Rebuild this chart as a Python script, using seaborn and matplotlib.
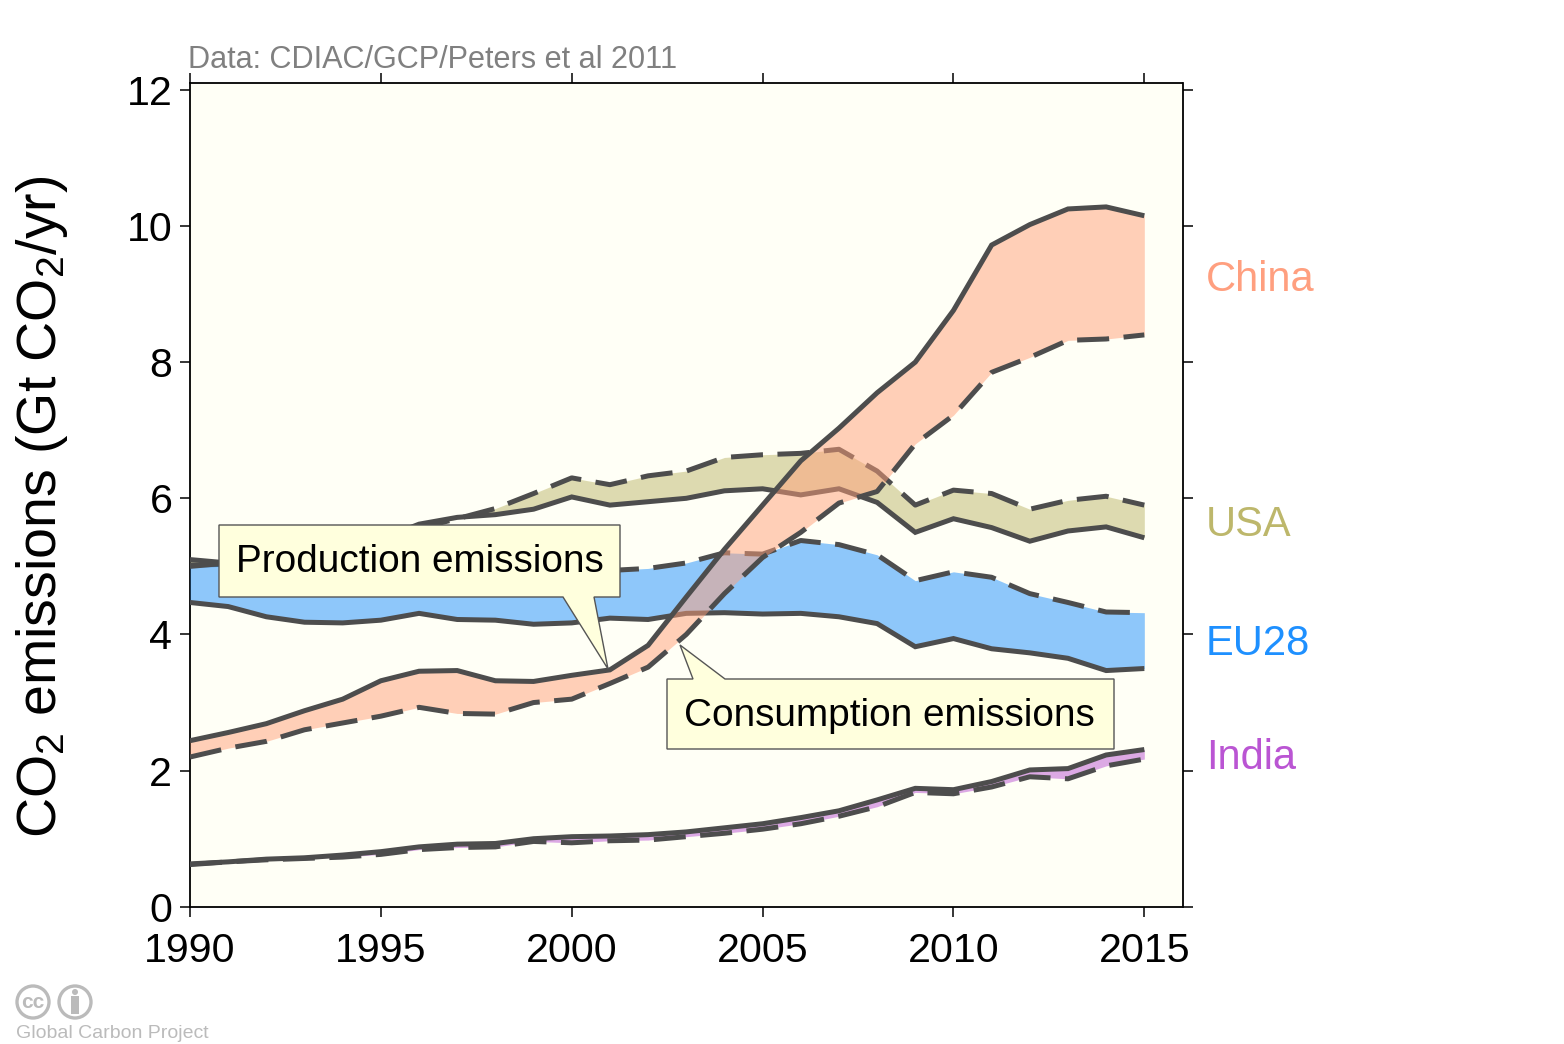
import numpy as np
import pandas as pd
import matplotlib
matplotlib.use("Agg")
import matplotlib.pyplot as plt
from matplotlib.patches import Polygon, Rectangle, Ellipse
import seaborn as sns

years = list(range(1990, 2016))
china_prod = [2.44,2.56,2.69,2.88,3.05,3.32,3.46,3.47,3.32,3.31,3.40,3.48,3.84,4.55,5.25,5.90,6.55,7.03,7.55,8.00,8.76,9.72,10.02,10.25,10.28,10.15]
china_cons = [2.20,2.33,2.43,2.60,2.70,2.80,2.93,2.84,2.83,3.00,3.05,3.28,3.52,4.00,4.60,5.13,5.50,5.93,6.10,6.80,7.22,7.85,8.07,8.32,8.34,8.40]
usa_prod = [5.10,5.05,5.08,5.20,5.30,5.40,5.62,5.72,5.76,5.84,6.02,5.90,5.95,6.00,6.11,6.14,6.05,6.14,5.94,5.50,5.70,5.57,5.37,5.52,5.58,5.42]
usa_cons = [5.02,5.03,5.06,5.16,5.25,5.36,5.56,5.70,5.85,6.07,6.30,6.20,6.33,6.40,6.60,6.64,6.66,6.72,6.40,5.90,6.12,6.07,5.84,5.97,6.03,5.90]
eu_prod = [4.47,4.41,4.26,4.18,4.17,4.21,4.31,4.22,4.21,4.15,4.17,4.24,4.22,4.31,4.32,4.30,4.31,4.26,4.16,3.82,3.94,3.79,3.73,3.65,3.47,3.50]
eu_cons = [5.00,5.05,5.00,4.90,4.85,4.88,4.95,4.95,4.93,4.90,4.93,4.94,4.97,5.05,5.20,5.18,5.38,5.32,5.17,4.79,4.92,4.84,4.60,4.47,4.33,4.32]
india_prod = [0.63,0.66,0.70,0.72,0.76,0.81,0.88,0.92,0.93,1.00,1.03,1.04,1.06,1.10,1.16,1.22,1.31,1.41,1.57,1.74,1.72,1.84,2.01,2.03,2.23,2.31]
india_cons = [0.62,0.66,0.69,0.71,0.73,0.77,0.84,0.87,0.88,0.96,0.94,0.97,0.98,1.03,1.08,1.14,1.22,1.33,1.47,1.68,1.66,1.76,1.91,1.88,2.07,2.17]

x_ticks = [1990, 1995, 2000, 2005, 2010, 2015]
y_ticks = [0, 2, 4, 6, 8, 10, 12]
y_label = "CO$_2$ emissions (Gt CO$_2$/yr)"
source = "Data: CDIAC/GCP/Peters et al 2011"
credit = "Global Carbon Project"

series = [
    ("India", india_prod, india_cons, "#BA55D3", 758),
    ("USA", usa_prod, usa_cons, "#BDB76B", 525),
    ("EU28", eu_prod, eu_cons, "#1E90FF", 644),
    ("China", china_prod, china_cons, "#FFA07A", 280),
]

sns.set_style("ticks")
plt.rcParams["font.family"] = ["Liberation Sans", "DejaVu Sans"]
plt.rcParams["mathtext.fontset"] = "custom"
plt.rcParams["mathtext.rm"] = "Liberation Sans"
plt.rcParams["mathtext.default"] = "regular"
plt.rcParams["text.color"] = "black"

W, H = 1564, 1044
fig = plt.figure(figsize=(W / 100, H / 100), dpi=100, facecolor="white")
L, R, T, B = 190, 1182.5, 83, 906.8
ax = fig.add_axes([L / W, 1 - B / H, (R - L) / W, (B - T) / H], facecolor="#FFFFF6")

def fx(px):
    return px / W

def fy(py):
    return 1 - py / H

DARK = "#4D4D4D"
LW = 3.6
for i, (name, prod, cons, col, label_y) in enumerate(series):
    z = 2 + i * 2
    ax.fill_between(years, prod, cons, color=col, alpha=0.5, lw=0, zorder=z)
    df = pd.DataFrame({"year": years, "prod": prod, "cons": cons})
    sns.lineplot(data=df, x="year", y="prod", ax=ax, color=DARK, lw=LW, zorder=z + 1,
                 solid_capstyle="butt", solid_joinstyle="miter", errorbar=None)
    sns.lineplot(data=df, x="year", y="cons", ax=ax, color=DARK, lw=LW, zorder=z + 1,
                 linestyle=(0, (6.4, 2.9)), dash_capstyle="butt", errorbar=None)
    fig.text(fx(1206), fy(label_y), name, color=col if name != "China" else "#FF9F7F",
             fontsize=30, va="center", ha="left")

ax.set_xlim(1990, 2016)
ax.set_ylim(0, 12.1)
ax.set_xticks(x_ticks)
ax.set_yticks(y_ticks)
ax.set_xlabel("")
ax.set_ylabel("")
ax.tick_params(axis="both", which="major", length=7.2, width=1.1, color="black",
               labelcolor="black", labelsize=29.6, top=True, right=True)
ax.tick_params(axis="y", pad=5.5)
ax.tick_params(axis="x", pad=11)
for s in ax.spines.values():
    s.set_visible(True)
    s.set_color("black")
    s.set_linewidth(1.3)

fig.text(fx(42), fy(507), y_label, rotation=90, fontsize=40, color="black", ha="center", va="center")
fig.text(fx(188), fy(60), source, fontsize=22.1, color="#808080", ha="left", va="center")

BOX = "#FFFFDD"

def callout(points):
    pts = [(fx(a), fy(b)) for a, b in points]
    fig.add_artist(Polygon(pts, closed=True, transform=fig.transFigure, facecolor=BOX,
                           edgecolor="#555555", lw=1.0, zorder=5))

callout([(219, 525), (620, 525), (620, 597), (594, 597), (608, 669), (563, 597), (219, 597)])
callout([(667, 679), (693, 679), (680, 645), (725, 679), (1114, 679), (1114, 749), (667, 749)])
fig.text(fx(420), fy(562), "Production emissions", fontsize=27.9, ha="center", va="center", zorder=6)
fig.text(fx(889.5), fy(716), "Consumption emissions", fontsize=27.9, ha="center", va="center", zorder=6)

# licence badge
GREY = "#BBBBBB"
for cx in (33, 75):
    fig.add_artist(Ellipse((fx(cx), fy(1002)), 32 / W, 32 / H, transform=fig.transFigure,
                           facecolor="none", edgecolor=GREY, lw=2.4))
fig.text(fx(33), fy(1002), "cc", fontsize=15, fontweight="bold", color=GREY, ha="center", va="center")
fig.add_artist(Ellipse((fx(75), fy(992)), 6 / W, 6 / H, transform=fig.transFigure,
                       facecolor=GREY, edgecolor="none"))
fig.add_artist(Rectangle((fx(71), fy(1014)), 8 / W, 18 / H, transform=fig.transFigure,
                         facecolor=GREY, edgecolor="none"))
fig.text(fx(15.5), fy(1033), credit, fontsize=14, color=GREY, ha="left", va="center")

fig.savefig("out.png", dpi=100)
